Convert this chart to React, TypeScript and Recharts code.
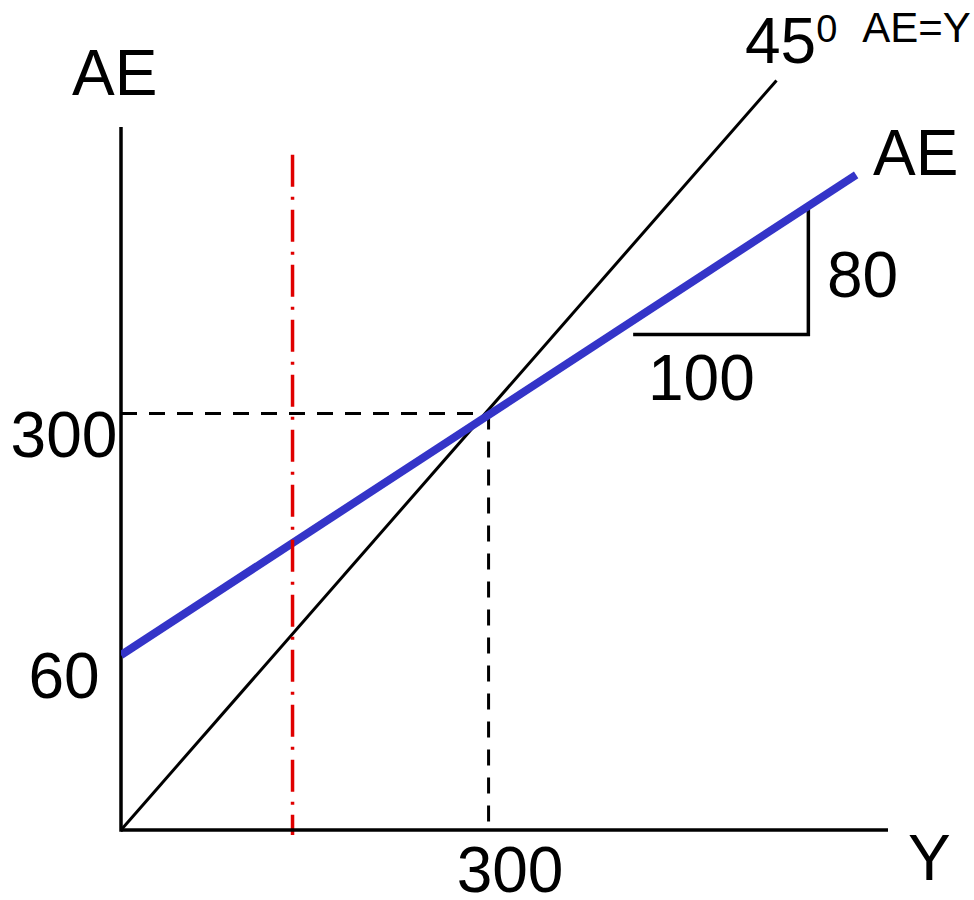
import React from 'react';
import { LineChart, Line, XAxis, YAxis, ReferenceLine, ReferenceDot } from 'recharts';

const FONT = '"Liberation Sans", Arial, Helvetica, sans-serif';

// ---- values (schematic units) ----
const xDomain = [0, 626];
const yDomain = [0, 541];
const xTicks = [300];
const xTickLabels = ['300'];
const yTicks = [126, 300];
const yTickLabels = ['60', '300'];

const aeLine = [
  { x: 0, y: 126 },
  { x: 600, y: 472 },
];
const line45 = [
  { x: 0, y: 0 },
  { x: 535, y: 540 },
];
const eqHorizontal = [
  { x: 0, y: 300 },
  { x: 300, y: 300 },
];
const eqVertical = [
  { x: 300, y: 300 },
  { x: 300, y: 0 },
];
const slopeTriangle = [
  { x: 418, y: 357 },
  { x: 561, y: 357 },
  { x: 561, y: 449 },
];
const redLine = [
  { x: 140, y: 486.5 },
  { x: 140, y: -3.6 },
];
const yAxisLine = [
  { x: 0, y: -1.2 },
  { x: 0, y: 506.4 },
];

const labelTexts = ['AE', '45', 'AE=Y', 'AE', '80', '100', 'Y'];
const labelAnchors = [
  { x: -40, y: 529.5 },
  { x: 509.3, y: 552.5 },
  { x: 605, y: 567.7 },
  { x: 613.8, y: 471.8 },
  { x: 576.2, y: 384 },
  { x: 430.1, y: 309.8 },
  { x: 642.3, y: -36 },
];
const labelSizes = [64, 64, 42, 64, 64, 64, 64];
const labelSups = ['', '0', '', '', '', '', ''];

const XTick = (props: any) => {
  const idx = xTicks.indexOf(props.payload.value);
  return (
    <text
      x={props.x + 21.5}
      y={props.y + 54}
      textAnchor="middle"
      fontSize={64}
      fontFamily={FONT}
      fill="#000"
    >
      {xTickLabels[idx]}
    </text>
  );
};

const YTick = (props: any) => {
  const idx = yTicks.indexOf(props.payload.value);
  return (
    <text
      x={props.x - 49}
      y={props.y + 43}
      textAnchor="middle"
      fontSize={64}
      fontFamily={FONT}
      fill="#000"
    >
      {yTickLabels[idx]}
    </text>
  );
};

export default function App() {
  return (
    <div style={{ position: 'absolute', left: 0, top: 0, width: 974, height: 900, background: '#fff' }}>
      <LineChart width={974} height={900} margin={{ top: 79, right: 86, bottom: 0, left: 0 }}>
        <XAxis
          type="number"
          dataKey="x"
          domain={xDomain}
          ticks={xTicks}
          tickLine={false}
          axisLine={{ stroke: '#000', strokeWidth: 3.5 }}
          tick={<XTick />}
          height={70}
          allowDataOverflow
        />
        <YAxis
          type="number"
          dataKey="y"
          domain={yDomain}
          ticks={yTicks}
          tickLine={false}
          axisLine={false}
          tick={<YTick />}
          width={121}
          allowDataOverflow={false}
        />
        <ReferenceLine segment={yAxisLine} stroke="#000" strokeWidth={3.5} ifOverflow="visible" />
        <Line
          data={eqHorizontal}
          dataKey="y"
          type="linear"
          stroke="#000"
          strokeWidth={3}
          strokeDasharray="16 12"
          dot={false}
          activeDot={false}
          isAnimationActive={false}
        />
        <Line
          data={eqVertical}
          dataKey="y"
          type="linear"
          stroke="#000"
          strokeWidth={3}
          strokeDasharray="16 12"
          dot={false}
          activeDot={false}
          isAnimationActive={false}
        />
        <Line
          data={line45}
          dataKey="y"
          type="linear"
          stroke="#000"
          strokeWidth={3}
          dot={false}
          activeDot={false}
          isAnimationActive={false}
        />
        <Line
          data={slopeTriangle}
          dataKey="y"
          type="linear"
          stroke="#000"
          strokeWidth={3.5}
          dot={false}
          activeDot={false}
          isAnimationActive={false}
        />
        <Line
          data={aeLine}
          dataKey="y"
          type="linear"
          stroke="#3434c8"
          strokeWidth={8}
          dot={false}
          activeDot={false}
          isAnimationActive={false}
        />
        <ReferenceLine
          segment={redLine}
          stroke="#e00000"
          strokeWidth={3.5}
          strokeDasharray="32 10 3 10"
          ifOverflow="visible"
        />
        {labelTexts.map((t, i) => (
          <ReferenceDot
            key={i}
            x={labelAnchors[i].x}
            y={labelAnchors[i].y}
            r={0}
            ifOverflow="visible"
            shape={(p: any) => (
              <text x={p.cx} y={p.cy} fontSize={labelSizes[i]} fontFamily={FONT} fill="#000">
                {t}
                {labelSups[i] ? (
                  <tspan dy={-21} fontSize={38}>
                    {labelSups[i]}
                  </tspan>
                ) : null}
              </text>
            )}
          />
        ))}
      </LineChart>
    </div>
  );
}
